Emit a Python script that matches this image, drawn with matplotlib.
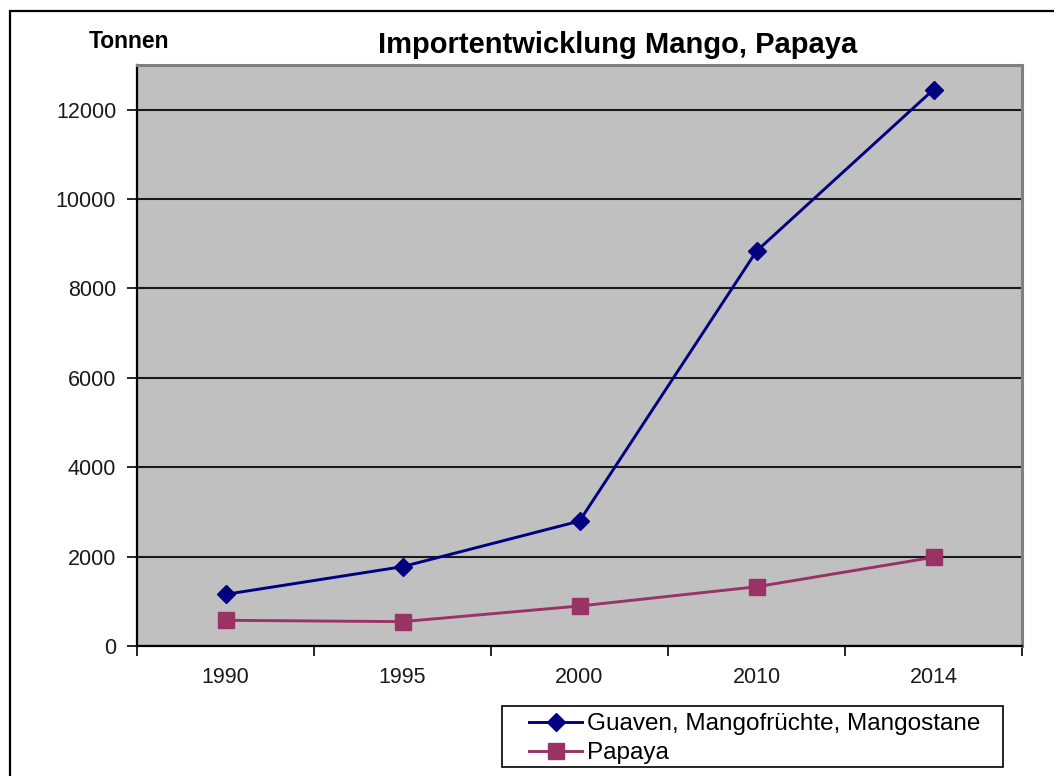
import numpy as np
import matplotlib
matplotlib.use('Agg')
from matplotlib import pyplot as plt
from matplotlib.patches import Rectangle

years = ['1990', '1995', '2000', '2010', '2014']
mango = [1155, 1775, 2795, 8835, 12450]
papaya = [575, 545, 895, 1325, 1985]

plt.rcParams['font.family'] = ['Liberation Sans', 'DejaVu Sans']

W, H = 1054, 776
fig = plt.figure(figsize=(W / 100, H / 100), dpi=100)
ax = fig.add_axes([137 / W, 1 - 646 / H, (1022 - 137) / W, (646 - 65) / H])
ax.set_facecolor('#c0c0c0')

x = np.arange(len(years))
ax.plot(x, mango, color='#000080', lw=2.1, marker='D', ms=9,
        label='Guaven, Mangofrüchte, Mangostane', zorder=3)
ax.plot(x, papaya, color='#993366', lw=2.1, marker='s', ms=11,
        label='Papaya', zorder=3)

ax.set_xlim(-0.5, len(years) - 0.5)
ax.set_ylim(0, 13000)
ax.set_yticks(range(0, 13000, 2000))
ax.yaxis.grid(True, color='#1a1a1a', lw=1.5)
ax.set_axisbelow(True)

ax.set_xticks(np.arange(-0.5, len(years), 1.0))
ax.set_xticklabels([])
ax.set_xticks(x, minor=True)
ax.set_xticklabels(years, minor=True)
ax.tick_params(axis='x', which='minor', length=0, pad=15, labelsize=15.5, labelcolor='#1a1a1a')
ax.tick_params(axis='x', which='major', length=7, width=1.2, direction='out')
ax.tick_params(axis='y', length=7, width=1.2, direction='out', pad=8,
               labelsize=15.5, labelcolor='#1a1a1a')

for s in ['left', 'bottom']:
    ax.spines[s].set_color('black')
    ax.spines[s].set_linewidth(1.6)
for s in ['top', 'right']:
    ax.spines[s].set_color('#808080')
    ax.spines[s].set_linewidth(2.2)

fig.text(618 / W, 1 - 53 / H, 'Importentwicklung Mango, Papaya', ha='center', va='baseline',
         fontsize=21, fontweight='bold')
fig.text(129 / W, 1 - 47.5 / H, 'Tonnen', ha='center', va='baseline', fontsize=16.5,
         fontweight='bold')

leg = fig.legend(loc='upper left', bbox_to_anchor=(529 / W, 1 - 713 / H), fontsize=17.5,
                 frameon=False, borderpad=0, borderaxespad=0, handlelength=2.2,
                 handletextpad=0.2, labelspacing=0.3)

# legend frame
fig.patches.append(Rectangle((502 / W, 1 - 767 / H), (1003 - 502) / W, (767 - 706) / H,
                             transform=fig.transFigure, fill=False, ec='black', lw=1.2))
# outer chart border
fig.patches.append(Rectangle((10 / W, -0.1), 1.2, 1.1 - 11.5 / H,
                             transform=fig.transFigure, fill=False, ec='black', lw=1.6))

fig.savefig('out.png', dpi=100)
